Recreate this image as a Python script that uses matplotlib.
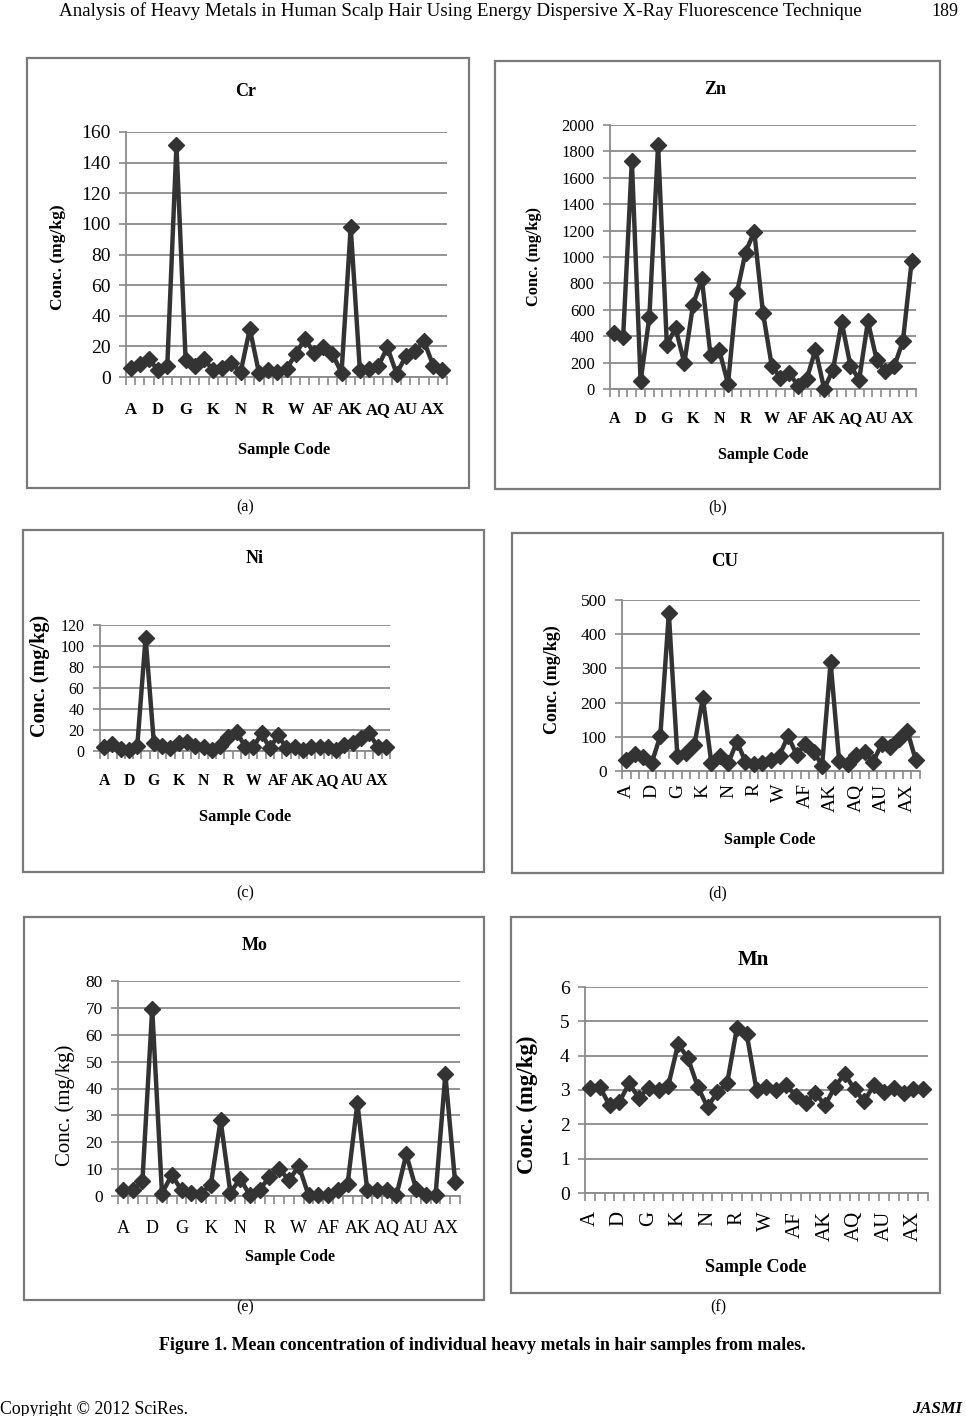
import matplotlib.pyplot as plt
from matplotlib.patches import Rectangle

# ---------------------------------------------------------------
# DATA: mean concentration (mg/kg) per sample, males
# ---------------------------------------------------------------
sample_codes = ["A", "B", "C", "D", "E", "F", "G", "H", "I", "K", "L", "M",
                "N", "O", "P", "R", "S", "T", "W", "X", "Y", "AF", "AG", "AH",
                "AK", "AL", "AM", "AQ", "AR", "AS", "AU", "AV", "AW", "AX", "AY"]

cr = [5.9, 8.7, 11.8, 4.4, 7.0, 151.3, 11.3, 7.0, 11.8, 4.4, 5.9, 9.0,
      3.3, 31.4, 2.6, 4.8, 3.3, 5.2, 15.0, 25.0, 15.7, 19.4, 15.3, 2.6,
      97.9, 4.4, 5.2, 7.0, 19.4, 2.2, 13.5, 16.8, 23.3, 7.4, 4.8]

zn = [424, 391, 1730, 58, 545, 1849, 335, 462, 197, 638, 835, 255,
      293, 40, 726, 1034, 1193, 575, 177, 83, 121, 25, 76, 298,
      0, 146, 507, 177, 71, 512, 222, 134, 171, 361, 966]

ni = [4.1, 6.7, 1.6, 1.0, 4.8, 108, 7.9, 4.8, 2.5, 7.9, 8.9, 4.8,
      4.1, 1.0, 4.8, 13.7, 18.4, 4.1, 3.5, 16.8, 2.5, 15.2, 2.5, 3.5,
      1.0, 4.1, 3.5, 3.5, 1.0, 5.7, 7.9, 12.0, 16.8, 4.1, 4.1]

cu = [32, 50, 42, 24, 103, 461, 45, 52, 76, 214, 22, 45,
      24, 86, 27, 20, 22, 32, 45, 103, 47, 79, 57, 16,
      318, 30, 20, 47, 55, 27, 79, 71, 93, 118, 32]

mo = [2.1, 2.1, 5.6, 69.7, 0.9, 7.9, 2.1, 1.2, 0.9, 4.2, 28.2, 1.2,
      6.5, 0.2, 2.4, 7.1, 10.2, 5.8, 11.2, 0.3, 0.2, 0.5, 2.4, 4.6,
      34.6, 2.4, 2.4, 2.1, 0.3, 15.5, 2.7, 0.4, 0.4, 45.3, 5.2]

mn = [3.07, 3.10, 2.55, 2.65, 3.19, 2.77, 3.07, 3.00, 3.13, 4.34, 3.93, 3.10,
      2.50, 2.94, 3.19, 4.80, 4.63, 3.00, 3.10, 3.00, 3.16, 2.82, 2.62, 2.91,
      2.55, 3.10, 3.47, 3.02, 2.67, 3.16, 2.94, 3.07, 2.90, 3.04, 3.03]

W, H = 966, 1416
plt.rcParams["font.family"] = ["Liberation Serif", "DejaVu Serif"]

fig = plt.figure(figsize=(W / 100, H / 100), dpi=100)
fig.patch.set_facecolor("white")

LINE = "#333333"
GRID = "#8a8a8a"


def txt(x, y, s, **kw):
    kw.setdefault("ha", "center")
    kw.setdefault("va", "center")
    fig.text(x / W, 1 - y / H, s, **kw)


def box(l, t, r, b):
    fig.patches.append(Rectangle((l / W, 1 - b / H), (r - l) / W, (b - t) / H,
                                 transform=fig.transFigure, fill=False,
                                 edgecolor="#7a7a7a", linewidth=1.6))


def panel(area, values, ymax, step, tick_fs, xfs, xpad, rot=False,
          xbold=True):
    l, t, r, b = area
    ax = fig.add_axes([l / W, 1 - b / H, (r - l) / W, (b - t) / H])
    n = len(values)
    x = list(range(n))
    ax.plot(x, values, color=LINE, linewidth=3.2, marker="D",
            markersize=8.5, markerfacecolor=LINE, markeredgecolor=LINE,
            clip_on=False, zorder=3)
    ax.set_xlim(-0.5, n - 0.5)
    ax.set_ylim(0, ymax)
    ax.set_yticks(range(0, ymax + 1, step))
    ax.grid(axis="y", color=GRID, linewidth=1.3)
    ax.set_axisbelow(True)
    for s in ["top", "right"]:
        ax.spines[s].set_visible(False)
    for s in ["left", "bottom"]:
        ax.spines[s].set_color(GRID)
        ax.spines[s].set_linewidth(1.3)
    ax.tick_params(axis="y", length=5, color=GRID, width=1.2,
                   labelsize=tick_fs, pad=6)
    # category separators as minor ticks, labels every third sample
    ax.set_xticks([i - 0.5 for i in range(n + 1)], minor=True)
    ax.set_xticks(x[::3])
    ax.set_xticklabels(sample_codes[::3],
                       fontweight="bold" if xbold else "normal",
                       rotation=90 if rot else 0)
    ax.tick_params(axis="x", which="minor", length=6, color=GRID, width=1.2)
    ax.tick_params(axis="x", which="major", length=0, labelsize=xfs, pad=xpad)
    ax.set_facecolor("none")
    return ax


# header
txt(460, 11, "Analysis of Heavy Metals in Human Scalp Hair Using Energy "
    "Dispersive X-Ray Fluorescence Technique", fontsize=13.7)
txt(945, 11, "189", fontsize=13)

# (a) Cr
box(27, 58, 469, 488)
panel((126, 132, 447, 377), cr, 160, 20, 14, 12, 18)
txt(246, 91, "Cr", fontsize=13, fontweight="bold")
txt(58, 257, "Conc. (mg/kg)", fontsize=12.5, fontweight="bold", rotation=90)
txt(284, 450, "Sample Code", fontsize=11.8, fontweight="bold")
txt(245, 507, "(a)", fontsize=11.5)

# (b) Zn
box(495, 61, 940, 489)
panel((610, 125, 916, 389), zn, 2000, 200, 12, 11.6, 16)
txt(715, 89, "Zn", fontsize=13, fontweight="bold")
txt(534, 256, "Conc. (mg/kg)", fontsize=11.8, fontweight="bold", rotation=90)
txt(763, 455, "Sample Code", fontsize=11.6, fontweight="bold")
txt(718, 507, "(b)", fontsize=11.5)

# (c) Ni
box(23, 530, 484, 872)
panel((100, 625, 390, 751), ni, 120, 20, 11.5, 11.3, 16)
txt(255, 558, "Ni", fontsize=13, fontweight="bold")
txt(40, 676, "Conc. (mg/kg)", fontsize=14.5, fontweight="bold", rotation=90)
txt(245, 817, "Sample Code", fontsize=11.8, fontweight="bold")
txt(245, 893, "(c)", fontsize=11.5)

# (d) CU
box(512, 533, 943, 873)
panel((622, 600, 920, 771), cu, 500, 100, 12.5, 14, 9, rot=True,
      xbold=False)
txt(725, 562, "CU", fontsize=13.5, fontweight="bold")
txt(552, 680, "Conc. (mg/kg)", fontsize=13, fontweight="bold", rotation=90)
txt(770, 840, "Sample Code", fontsize=11.7, fontweight="bold")
txt(718, 893, "(d)", fontsize=11.5)

# (e) Mo
box(24, 917, 484, 1300)
panel((118, 981, 460, 1196), mo, 80, 10, 12.5, 13, 17, xbold=False)
txt(255, 945, "Mo", fontsize=13, fontweight="bold")
txt(65, 1105, "Conc. (mg/kg)", fontsize=15, rotation=90)
txt(290, 1257, "Sample Code", fontsize=11.5, fontweight="bold")
txt(245, 1307, "(e)", fontsize=11.5)

# (f) Mn
box(511, 917, 940, 1293)
panel((585, 987, 928, 1193), mn, 6, 1, 14, 15, 13, rot=True, xbold=False)
txt(753, 960, "Mn", fontsize=15, fontweight="bold")
txt(527, 1105, "Conc. (mg/kg)", fontsize=16.5, fontweight="bold", rotation=90)
txt(756, 1268, "Sample Code", fontsize=13, fontweight="bold")
txt(718, 1307, "(f)", fontsize=11.5)

# caption and footer
txt(482, 1345, "Figure 1. Mean concentration of individual heavy metals in "
    "hair samples from males.", fontsize=12.9, fontweight="bold")
txt(0, 1409, "Copyright \u00a9 2012 SciRes.", fontsize=12.8, ha="left")
txt(962, 1409, "JASMI", fontsize=12, ha="right", fontweight="bold",
    fontstyle="italic")

fig.savefig("out.png", dpi=100, facecolor="white")
